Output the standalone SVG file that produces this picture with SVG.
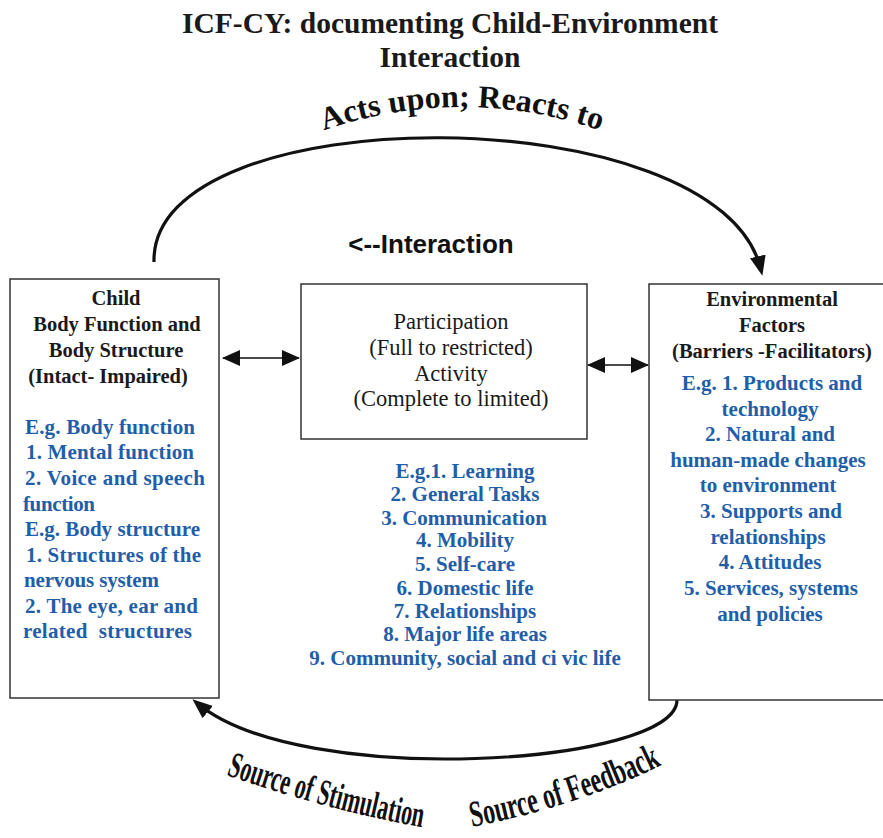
<svg xmlns="http://www.w3.org/2000/svg" width="883" height="838" viewBox="0 0 883 838">
<style>
.box{fill:#fff;stroke:#333;stroke-width:1.5}
.title{font-family:"Liberation Serif",serif;font-weight:bold;font-size:29.5px;fill:#1a1a1a;text-anchor:middle}
.hdr{font-family:"Liberation Serif",serif;font-weight:bold;font-size:20.5px;fill:#1a1a1a;text-anchor:middle}
.reg{font-family:"Liberation Serif",serif;font-size:22.5px;fill:#1a1a1a;text-anchor:middle}
.blue{font-family:"Liberation Serif",serif;font-weight:bold;font-size:21px;fill:#1f5ea8}
.mid{text-anchor:middle}
.arc{fill:none;stroke:#111;stroke-width:3.2}
.dbl{fill:none;stroke:#111;stroke-width:1.5}
.curved{font-family:"Liberation Serif",serif;font-weight:bold;fill:#111}
.sans{font-family:"Liberation Sans",Arial,sans-serif;font-weight:bold;font-size:26px;fill:#111;text-anchor:middle}
</style>
<defs>
<marker id="ah" markerUnits="userSpaceOnUse" markerWidth="22" markerHeight="18" refX="14" refY="8" orient="auto">
<path d="M0,0 L20,8 L0,16 z" fill="#111"/>
</marker>
<marker id="dh" markerUnits="userSpaceOnUse" markerWidth="20" markerHeight="18" refX="17" refY="8" orient="auto-start-reverse">
<path d="M0,0 L18,8 L0,16 z" fill="#111"/>
</marker>
<path id="topTxt" d="M 262 157.7 A 420 420 0 0 1 662 157.7"/>
<path id="stimTxt" d="M 226 775 Q 330 811 426 828"/>
<path id="fbTxt" d="M 472 827 Q 580 806 668 762"/>
</defs>

<g id="title">
<text class="title" x="450" y="33">ICF-CY: documenting Child-Environment</text>
<text class="title" x="450" y="67">Interaction</text>
</g>

<g id="connectors">
<path class="arc" d="M 154 262 C 150 95, 720 95, 761 270" marker-end="url(#ah)"/>
<path class="arc" d="M 677 700 C 677 765, 300 790, 197 703" marker-end="url(#ah)"/>
<path class="dbl" d="M 223 358 L 299 358" marker-start="url(#dh)" marker-end="url(#dh)"/>
<path class="dbl" d="M 588 365 L 648 365" marker-start="url(#dh)" marker-end="url(#dh)"/>
</g>

<g id="label-acts">
<text class="curved" font-size="32"><textPath href="#topTxt" startOffset="50%" text-anchor="middle">Acts upon; Reacts to</textPath></text>
</g>
<g id="label-interaction">
<text class="sans" x="431" y="253">&lt;--Interaction</text>
</g>
<g id="label-stimulation">
<text class="curved" font-size="37"><textPath href="#stimTxt" textLength="203" lengthAdjust="spacingAndGlyphs">Source of Stimulation</textPath></text>
</g>
<g id="label-feedback">
<text class="curved" font-size="37"><textPath href="#fbTxt" textLength="200" lengthAdjust="spacingAndGlyphs">Source of Feedback</textPath></text>
</g>

<g id="child">
<rect class="box" x="10" y="279" width="209" height="419"/>
<text class="hdr" x="116" y="305">Child</text>
<text class="hdr" x="117" y="331">Body Function and</text>
<text class="hdr" x="116" y="357">Body Structure</text>
<text class="hdr" x="108" y="383">(Intact- Impaired)</text>
<text class="blue" x="25" y="434" textLength="170" lengthAdjust="spacing">E.g. Body function</text>
<text class="blue" x="26" y="459" textLength="168" lengthAdjust="spacing">1. Mental function</text>
<text class="blue" x="25" y="485" textLength="180" lengthAdjust="spacing">2. Voice and speech</text>
<text class="blue" x="23" y="511" textLength="72" lengthAdjust="spacing">function</text>
<text class="blue" x="25" y="536" textLength="175" lengthAdjust="spacing">E.g. Body structure</text>
<text class="blue" x="26" y="562" textLength="175" lengthAdjust="spacing">1. Structures of the</text>
<text class="blue" x="24" y="587" textLength="135" lengthAdjust="spacing">nervous system</text>
<text class="blue" x="25" y="613" textLength="173" lengthAdjust="spacing">2. The eye, ear and</text>
<text class="blue" x="23" y="638" textLength="169" lengthAdjust="spacing" xml:space="preserve">related  structures</text>
</g>

<g id="activity">
<rect class="box" x="301" y="284" width="286" height="155"/>
<text class="reg" x="451" y="329">Participation</text>
<text class="reg" x="451" y="355">(Full to restricted)</text>
<text class="reg" x="451" y="381">Activity</text>
<text class="reg" x="451" y="406">(Complete to limited)</text>
</g>

<g id="activity-examples">
<text class="blue mid" x="465" y="478">E.g.1. Learning</text>
<text class="blue mid" x="465" y="501">2. General Tasks</text>
<text class="blue mid" x="464" y="525">3. Communication</text>
<text class="blue mid" x="465" y="547">4. Mobility</text>
<text class="blue mid" x="465" y="571">5. Self-care</text>
<text class="blue mid" x="465" y="595">6. Domestic life</text>
<text class="blue mid" x="465" y="618">7. Relationships</text>
<text class="blue mid" x="465" y="641">8. Major life areas</text>
<text class="blue mid" x="465" y="665">9. Community, social and ci vic life</text>
</g>

<g id="environment">
<rect class="box" x="649" y="284" width="250" height="416"/>
<text class="hdr" x="772" y="306">Environmental</text>
<text class="hdr" x="772" y="332">Factors</text>
<text class="hdr" x="772" y="358">(Barriers -Facilitators)</text>
<text class="blue mid" x="772" y="390">E.g. 1. Products and</text>
<text class="blue mid" x="770" y="416">technology</text>
<text class="blue mid" x="770" y="441">2. Natural and</text>
<text class="blue mid" x="768" y="467">human-made changes</text>
<text class="blue mid" x="768" y="492">to environment</text>
<text class="blue mid" x="771" y="518">3. Supports and</text>
<text class="blue mid" x="768" y="544">relationships</text>
<text class="blue mid" x="770" y="569">4. Attitudes</text>
<text class="blue mid" x="771" y="595">5. Services, systems</text>
<text class="blue mid" x="770" y="621">and policies</text>
</g>
</svg>
